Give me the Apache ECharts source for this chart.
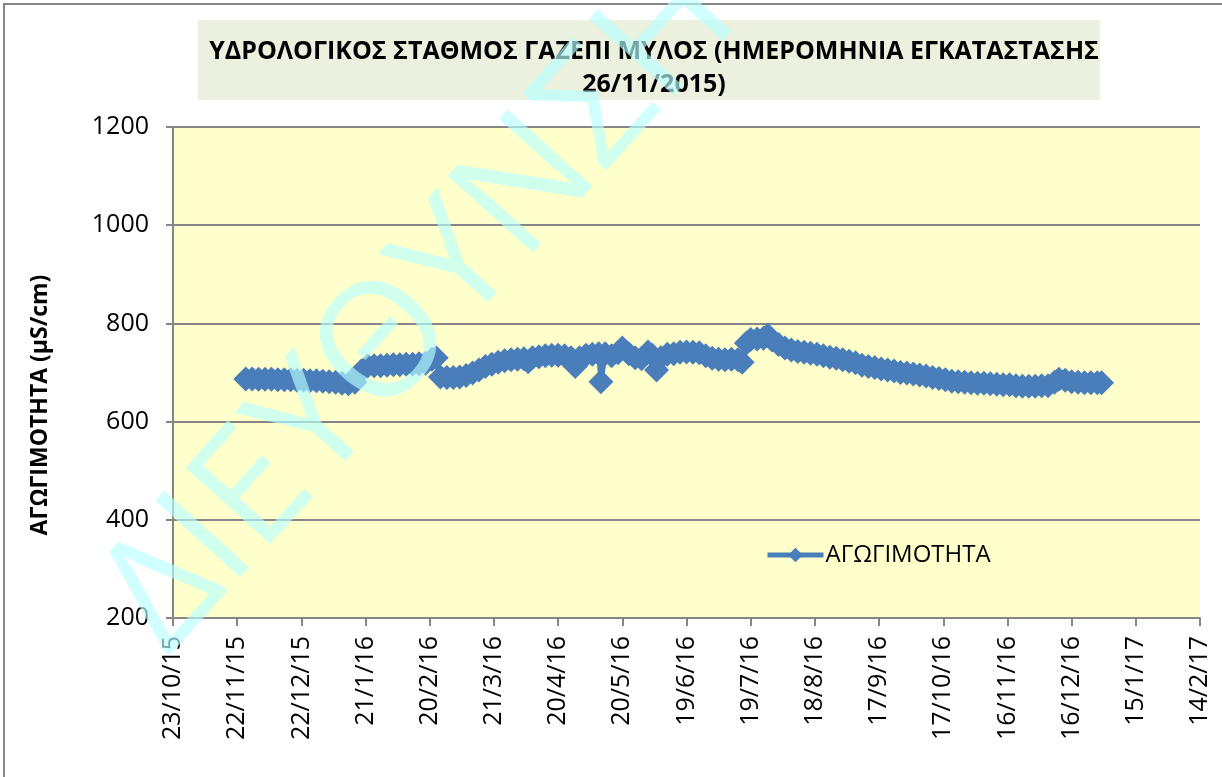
<!DOCTYPE html>
<html>

<head>
    <meta charset="utf-8">
    <title>ECharts</title>
    <script src="https://cdn.jsdelivr.net/npm/echarts@6/dist/echarts.min.js"></script>
</head>

<body style="margin:0">
    <div id="main" style="width: 1222px;height:777px;"></div>
    <script type="text/javascript">
        // μετρήσεις αγωγιμότητας (ημερομηνία / τιμή)
        var dates = [
            '26/11/2015', '29/11/2015', '2/12/2015', '5/12/2015', '8/12/2015', '11/12/2015', '14/12/2015',
            '17/12/2015', '20/12/2015', '23/12/2015', '26/12/2015', '29/12/2015',
            '1/1/2016', '4/1/2016', '7/1/2016', '10/1/2016', '13/1/2016', '16/1/2016', '19/1/2016',
            '22/1/2016', '25/1/2016', '28/1/2016', '31/1/2016',
            '3/2/2016', '6/2/2016', '9/2/2016', '12/2/2016', '15/2/2016', '18/2/2016', '21/2/2016',
            '23/2/2016', '25/2/2016', '28/2/2016',
            '2/3/2016', '5/3/2016', '8/3/2016', '11/3/2016', '14/3/2016', '17/3/2016', '20/3/2016',
            '23/3/2016', '26/3/2016', '29/3/2016',
            '1/4/2016', '4/4/2016', '6/4/2016', '8/4/2016', '11/4/2016', '14/4/2016', '17/4/2016',
            '20/4/2016', '23/4/2016', '26/4/2016', '28/4/2016', '30/4/2016',
            '3/5/2016', '6/5/2016', '9/5/2016', '10/5/2016', '12/5/2016', '15/5/2016', '18/5/2016',
            '20/5/2016', '23/5/2016', '26/5/2016', '29/5/2016',
            '1/6/2016', '3/6/2016', '5/6/2016', '7/6/2016', '10/6/2016', '13/6/2016', '16/6/2016',
            '19/6/2016', '22/6/2016', '25/6/2016', '28/6/2016',
            '1/7/2016', '4/7/2016', '7/7/2016', '10/7/2016', '13/7/2016', '15/7/2016', '17/7/2016',
            '19/7/2016', '22/7/2016', '25/7/2016', '27/7/2016', '29/7/2016',
            '1/8/2016', '4/8/2016', '7/8/2016', '10/8/2016', '13/8/2016', '16/8/2016', '19/8/2016',
            '22/8/2016', '25/8/2016', '28/8/2016', '31/8/2016',
            '3/9/2016', '6/9/2016', '9/9/2016', '12/9/2016', '15/9/2016', '18/9/2016', '21/9/2016',
            '24/9/2016', '27/9/2016', '30/9/2016',
            '3/10/2016', '6/10/2016', '9/10/2016', '12/10/2016', '15/10/2016', '18/10/2016', '21/10/2016',
            '24/10/2016', '27/10/2016', '30/10/2016',
            '2/11/2016', '5/11/2016', '8/11/2016', '11/11/2016', '14/11/2016', '17/11/2016', '20/11/2016',
            '23/11/2016', '26/11/2016', '29/11/2016',
            '2/12/2016', '5/12/2016', '8/12/2016', '10/12/2016', '13/12/2016', '16/12/2016', '19/12/2016',
            '22/12/2016', '25/12/2016', '28/12/2016', '30/12/2016'
        ];
        var agogimotita = [
            687, 687, 686, 686, 686, 685, 685,
            685, 684, 684, 683, 683,
            682, 681, 680, 678, 677, 680, 703,
            713, 714, 714, 715,
            716, 716, 717, 717, 718, 719, 727,
            730, 691, 690,
            690, 691, 694, 699, 705, 712, 717,
            721, 724, 726,
            727, 728, 722, 730, 732, 734, 735,
            735, 734, 730, 712, 730,
            735, 737, 738, 681, 738, 734, 740,
            750, 738, 730, 728,
            742, 735, 705, 730, 737, 738, 741,
            742, 741, 740, 734,
            729, 727, 726, 727, 726, 721, 760,
            767, 768, 770, 776, 766,
            757, 750, 746, 743, 741, 739, 737,
            734, 731, 729, 726,
            723, 720, 715, 712, 710, 707, 705,
            703, 700, 699,
            697, 695, 693, 690, 688, 685, 682,
            681, 680, 679,
            678, 678, 677, 676, 675, 675, 673,
            672, 672, 672,
            673, 673, 680, 686, 684, 681, 680,
            679, 679, 679, 679
        ];
        var xTickLabels = ['23/10/15', '22/11/15', '22/12/15', '21/1/16', '20/2/16', '21/3/16', '20/4/16',
            '20/5/16', '19/6/16', '19/7/16', '18/8/16', '17/9/16', '17/10/16', '16/11/16', '16/12/16',
            '15/1/17', '14/2/17'];
        var yTicks = [200, 400, 600, 800, 1000, 1200];

        var startDay = Date.UTC(2015, 9, 23);
        function dayOf(s) {
            var p = s.split('/').map(Number);
            return (Date.UTC(p[2], p[1] - 1, p[0]) - startDay) / 86400000;
        }
        var seriesData = dates.map(function (d, i) { return [dayOf(d), agogimotita[i]]; });

        var font = '"Open Sans", "Noto Sans", sans-serif';
        var myChart = echarts.init(document.getElementById('main'));
        myChart.setOption({
            animation: false,
            backgroundColor: '#ffffff',
            title: {
                text: 'ΥΔΡΟΛΟΓΙΚΟΣ ΣΤΑΘΜΟΣ ΓΑΖΕΠΙ ΜΥΛΟΣ (ΗΜΕΡΟΜΗΝΙΑ ΕΓΚΑΤΑΣΤΑΣΗΣ\n26/11/2015)',
                left: 649,
                top: 30,
                textAlign: 'center',
                textStyle: {
                    fontFamily: font,
                    fontWeight: 'bold',
                    fontSize: 25,
                    lineHeight: 33,
                    color: '#000'
                }
            },
            legend: {
                left: 765,
                top: 543,
                padding: 0,
                itemWidth: 56,
                itemHeight: 18,
                itemGap: 4,
                lineStyle: { width: 5 },
                textStyle: { fontFamily: font, fontSize: 24, color: '#000', padding: [0, 0, 0, -3] },
                data: ['ΑΓΩΓΙΜΟΤΗΤΑ']
            },
            grid: {
                left: 173,
                right: 22,
                top: 127,
                bottom: 159,
                show: true,
                backgroundColor: '#FFFFCC',
                borderWidth: 0
            },
            xAxis: {
                type: 'value',
                min: 0,
                max: 480,
                interval: 30,
                axisLine: { onZero: false, lineStyle: { color: '#868686', width: 2 } },
                axisTick: { show: true, length: 8, lineStyle: { color: '#868686', width: 2 } },
                splitLine: { show: false },
                axisLabel: {
                    rotate: 90,
                    margin: 18,
                    fontFamily: font,
                    fontSize: 25,
                    color: '#000',
                    formatter: function (v) { return xTickLabels[Math.round(v / 30)]; }
                }
            },
            yAxis: {
                type: 'value',
                min: yTicks[0],
                max: yTicks[yTicks.length - 1],
                interval: 200,
                axisLine: { show: true, lineStyle: { color: '#868686', width: 2 } },
                axisTick: { show: true, length: 7, lineStyle: { color: '#868686', width: 2 } },
                splitLine: { lineStyle: { color: '#868686', width: 2 } },
                axisLabel: {
                    margin: 24,
                    fontFamily: font,
                    fontSize: 25,
                    color: '#000',
                    formatter: function (v) { return String(v); }
                }
            },
            graphic: [
                {
                    type: 'rect',
                    shape: { x: 4, y: 4, width: 1240, height: 800 },
                    style: { fill: 'none', stroke: '#868686', lineWidth: 2 },
                    z: 0
                },
                {
                    type: 'rect',
                    shape: { x: 198, y: 20, width: 902, height: 80 },
                    style: { fill: '#EBF1DE' },
                    z: 0
                },
                {
                    type: 'text',
                    x: 40,
                    y: 405,
                    rotation: Math.PI / 2,
                    style: {
                        text: 'ΑΓΩΓΙΜΟΤΗΤΑ (µS/cm)',
                        fontFamily: font,
                        fontWeight: 'bold',
                        fontSize: 23,
                        fill: '#000',
                        textAlign: 'center',
                        textVerticalAlign: 'middle'
                    }
                },
                {
                    // υδατογράφημα
                    type: 'text',
                    x: 134,
                    y: 627,
                    rotation: 48 * Math.PI / 180,
                    z: 100,
                    silent: true,
                    style: {
                        text: 'ΔΙΕΥΘΥΝΣΗ',
                        fontFamily: font,
                        fontSize: 160,
                        fill: 'rgba(185,255,255,0.65)',
                        textAlign: 'left',
                        textVerticalAlign: 'middle'
                    }
                }
            ],
            series: [{
                name: 'ΑΓΩΓΙΜΟΤΗΤΑ',
                type: 'line',
                data: seriesData,
                symbol: 'diamond',
                symbolSize: 25,
                showAllSymbol: true,
                color: '#4A7EBB',
                lineStyle: { width: 5, color: '#4A7EBB' },
                itemStyle: { color: '#4A7EBB' },
                emphasis: { disabled: true }
            }]
        });
    </script>
</body>

</html>
